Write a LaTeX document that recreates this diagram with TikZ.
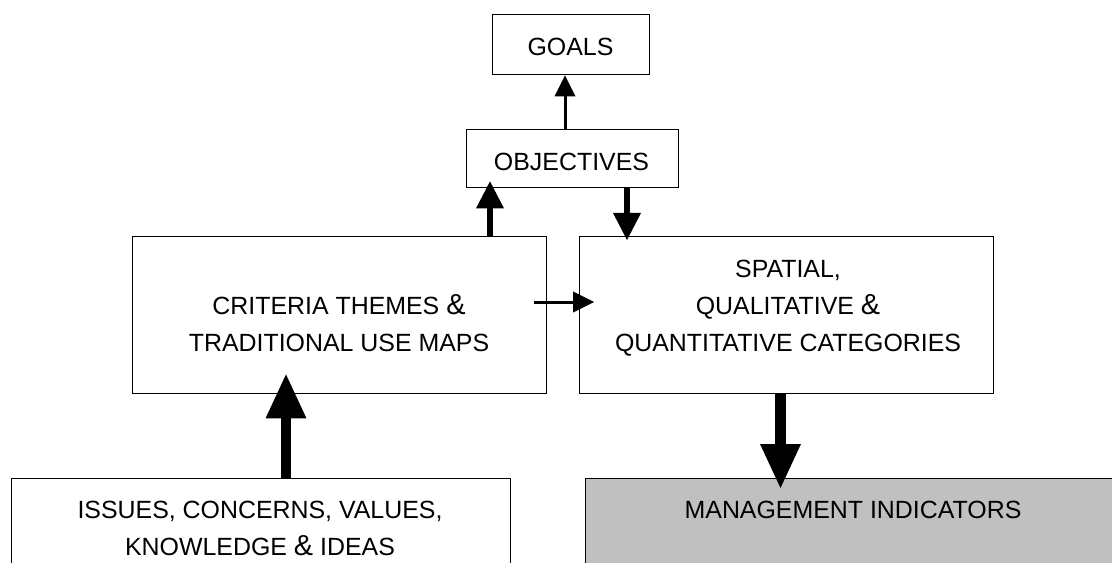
\documentclass[tikz,border=0pt]{standalone}
\usepackage{fontspec}
\setmainfont{Liberation Sans}
\usetikzlibrary{arrows.meta}
% a slightly larger ampersand, as set in the labels
\newcommand{\bigamp}{{\fontsize{29}{29}\selectfont\&}}
% fixed first-line height so labels can be placed by their first baseline
\newcommand{\toprule}{\rule{0pt}{22bp}}

\begin{document}
\begin{tikzpicture}[x=1bp,y=-1bp,
  box/.style={draw, line width=1.4bp, inner sep=0pt, anchor=north west},
  lbl/.style={font=\fontsize{25}{37.2}\selectfont, align=center,
              inner sep=0pt, anchor=north},
  thinarrow/.style={line width=3bp,
      -{Triangle[width=21bp,length=21bp,line width=0pt]}},
  midarrow/.style={line width=6.6bp,
      -{Triangle[width=28bp,length=27bp,line width=0pt]}},
  bigarrow/.style={line width=10.5bp,
      -{Triangle[width=41bp,length=44bp,line width=0pt]}}]

\useasboundingbox (0,0) rectangle (1112,563);
\fill[white] (0,0) rectangle (1112,563);

\begin{scope}
\clip (0,0) rectangle (1112,563);

% boxes
\node[box, minimum width=157bp, minimum height=60bp]  (goals)  at (492,14)  {};
\node[box, minimum width=212bp, minimum height=58bp]  (obj)    at (466,129) {};
\node[box, minimum width=414bp, minimum height=157bp] (crit)   at (132,236) {};
\node[box, minimum width=414bp, minimum height=157bp] (spat)   at (579,236) {};
\node[box, minimum width=499bp, minimum height=150bp] (issues) at (11,478)  {};
\node[box, fill={rgb,255:red,192;green,192;blue,192},
      minimum width=600bp, minimum height=150bp]      (mgmt)   at (585,478) {};

% labels (placed at first baseline minus 22bp)
\node[lbl] (tgoals)  at (570.5,33)  {\toprule GOALS};
\node[lbl] (tobj)    at (571.5,148) {\toprule OBJECTIVES};
\node[lbl] (tcrit)   at (339,292)   {\toprule CRITERIA THEMES \bigamp\\TRADITIONAL USE MAPS};
\node[lbl] (tspat)   at (788,255)   {\toprule SPATIAL,\\QUALITATIVE \bigamp\\QUANTITATIVE CATEGORIES};
\node[lbl] (tissues) at (260,496.5) {\toprule ISSUES, CONCERNS, VALUES,\\KNOWLEDGE \bigamp{} IDEAS};
\node[lbl] (tmgmt)   at (853,496.5) {\toprule MANAGEMENT INDICATORS};

% connector positions
\coordinate (xa) at (565,0);
\coordinate (xb) at (490,0);
\coordinate (xc) at (627,0);
\coordinate (yd) at (0,302);
\coordinate (xe) at (286,0);
\coordinate (xf) at (780.5,0);

% connectors
\draw[thinarrow] (obj.north -| xa) -- (goals.south -| xa);
\draw[midarrow, shorten >=-7bp] (crit.north -| xb) -- (obj.south -| xb);
\draw[midarrow, shorten >=-4bp] (obj.south -| xc) -- (spat.north -| xc);
\draw[thinarrow, shorten <=-13bp, shorten >=-15bp] (crit.east |- yd) -- (spat.west |- yd);
\draw[bigarrow, shorten >=-20bp] (issues.north -| xe) -- (crit.south -| xe);
\draw[bigarrow, shorten >=-10bp] (spat.south -| xf) -- (mgmt.north -| xf);
\end{scope}
\end{tikzpicture}
\end{document}
